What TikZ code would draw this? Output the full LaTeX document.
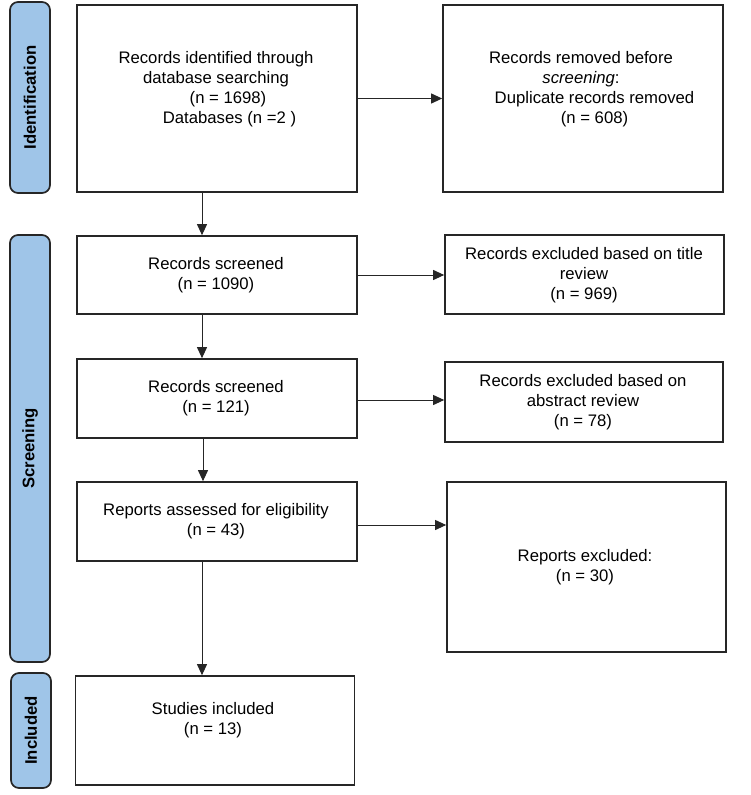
\documentclass[tikz,border=0pt]{standalone}
\usepackage{fontspec}
\setmainfont{Liberation Sans}
\usetikzlibrary{arrows.meta,calc}
\definecolor{stageblue}{HTML}{9FC5E8}
\definecolor{edgegray}{HTML}{262626}
\begin{document}
\begin{tikzpicture}[x=1pt,y=-1pt,
  box/.style={draw=edgegray,line width=1.7pt,fill=white,inner sep=0pt,rectangle},
  stage/.style={draw=edgegray,line width=1.7pt,fill=stageblue,rounded corners=8pt,inner sep=0pt,rectangle},
  txt/.style={align=center,inner sep=0pt,font=\fontsize{16.7}{20}\selectfont},
  stagetxt/.style={rotate=90,inner sep=0pt,font=\fontsize{16.7}{20}\selectfont\bfseries},
  arr/.style={draw=edgegray,line width=1pt,-{Triangle[length=11pt,width=10pt]}}]
\useasboundingbox (0,0) rectangle (750,795);

% stage labels
\node[stage,minimum width=40pt,minimum height=191pt] (s1) at (30,97.5) {};
\node[stagetxt] (s1t) at (s1.center) {Identification};
\node[stage,minimum width=40pt,minimum height=427pt] (s2) at (30,448.5) {};
\node[stagetxt] (s2t) at (s2.center) {Screening};
\node[stage,minimum width=40pt,minimum height=115pt] (s3) at (31,730.5) {};
\node[stagetxt] (s3t) at (s3.center) {Included};

% left column
\node[box,minimum width=280pt,minimum height=187pt] (b1) at (217,98.5) {};
\node[txt] (b1t) at (216,89) {Records identified through\\database searching\\\hspace*{24pt}(n = 1698)\\\hspace*{27pt}Databases (n =2 )};
\node[box,minimum width=280pt,minimum height=78pt] (b2) at (217,275) {};
\node[txt] (b2t) at (216,275) {Records screened\\(n = 1090)};
\node[box,minimum width=280pt,minimum height=79pt] (b3) at (217,398.5) {};
\node[txt] (b3t) at (216,398.5) {Records screened\\(n = 121)};
\node[box,minimum width=280pt,minimum height=79pt] (b4) at (217,521.5) {};
\node[txt] (b4t) at (216,521.5) {Reports assessed for eligibility\\(n = 43)};
\node[box,minimum width=279pt,minimum height=109pt] (b5) at (215,730.5) {};
\node[txt] (b5t) at (213,720) {Studies included\\(n = 13)};

% right column
\node[box,minimum width=280pt,minimum height=187pt] (r1) at (583,98.5) {};
\node[txt] (r1t) at (581,89) {Records removed before\\\textit{screening}:\\\hspace*{27pt}Duplicate records removed\\\hspace*{27pt}(n = 608)};
\node[box,minimum width=279pt,minimum height=79pt] (r2) at (584.5,274.5) {};
\node[txt] (r2t) at (584,275) {Records excluded based on title\\review\\(n = 969)};
\node[box,minimum width=278pt,minimum height=80pt] (r3) at (584,402) {};
\node[txt] (r3t) at (583,402) {Records excluded based on\\abstract review\\(n = 78)};
\node[box,minimum width=279pt,minimum height=170pt] (r4) at (586.5,567) {};
\node[txt] (r4t) at (585,567) {Reports excluded:\\(n = 30)};

% horizontal arrows
\draw[arr] (b1.east) -- (b1.east -| r1.west);
\draw[arr] (b2.east) -- (b2.east -| r2.west);
\draw[arr] ([yshift=-1.5pt]b3.east) -- ([yshift=-1.5pt]b3.east -| r3.west);
\draw[arr] ([yshift=-3.5pt]b4.east) -- ([yshift=-3.5pt]b4.east -| r4.west);

% vertical arrows
\draw[arr] ([xshift=-15pt]b1.south) -- ([xshift=-15pt]b1.south |- b2.north);
\draw[arr] ([xshift=-15pt]b2.south) -- ([xshift=-15pt]b2.south |- b3.north);
\draw[arr] ([xshift=-14pt]b3.south) -- ([xshift=-14pt]b3.south |- b4.north);
\draw[arr] ([xshift=-15pt]b4.south) -- ([xshift=-15pt]b4.south |- b5.north);
\end{tikzpicture}
\end{document}
